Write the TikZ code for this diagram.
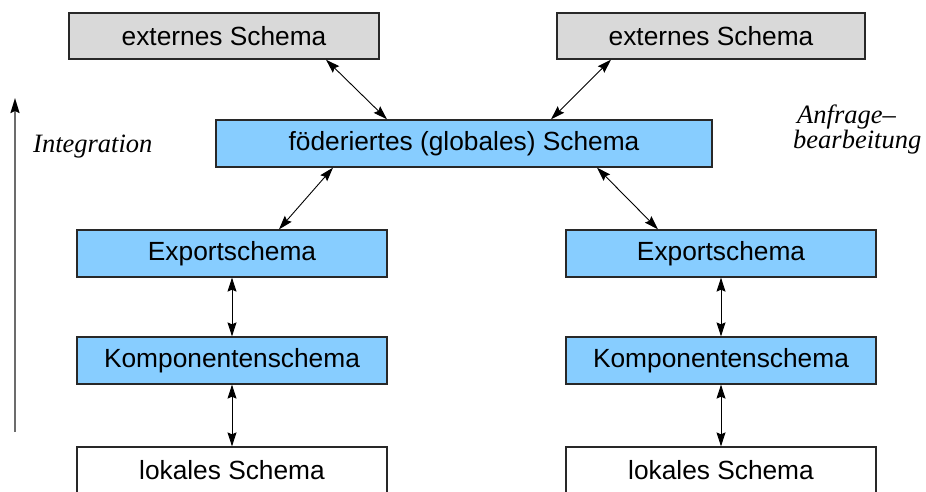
\documentclass[tikz,border=0pt]{standalone}
\usepackage{fontspec}
\setmainfont{Liberation Serif}
\setsansfont{Liberation Sans}
\usetikzlibrary{arrows.meta,calc}
\definecolor{boxgray}{RGB}{217,217,217}
\definecolor{boxblue}{RGB}{135,205,255}
\definecolor{edgegray}{RGB}{40,40,40}
\tikzset{
  boxfont/.style={font=\sffamily\fontsize{26.3}{30}\selectfont},
  schema/.style={draw=edgegray, line width=1.3pt, minimum width=310pt, minimum height=47pt,
    inner sep=0pt, boxfont, text=black},
  extbox/.style={schema, fill=boxgray, minimum height=46pt},
  bluebox/.style={schema, fill=boxblue},
  lokbox/.style={schema, fill=white, minimum height=70pt},
  arr/.style={{Stealth[length=14pt,width=9pt,inset=2pt]}-{Stealth[length=14pt,width=9pt,inset=2pt]}, line width=0.9pt, black},
  sidetext/.style={font=\itshape\fontsize{26.5}{30}\selectfont, inner sep=0pt, anchor=base west},
}
\begin{document}
\begin{tikzpicture}[x=1pt,y=-1pt]
\useasboundingbox (0,0) rectangle (926,491);
\clip (0,0) rectangle (926,491);
% boxes
\node[extbox] (ext1) at (224,36) {externes Schema};
\node[extbox, minimum width=308pt] (ext2) at (711,36) {externes Schema};
\node[bluebox, minimum width=496pt] (fed) at (464,143.5) {föderiertes (globales) Schema};
\node[bluebox] (exp1) at (232,253.5) {Exportschema};
\node[bluebox] (exp2) at (721,253.5) {Exportschema};
\node[bluebox] (komp1) at (232,360.5) {Komponentenschema};
\node[bluebox] (komp2) at (721,360.5) {Komponentenschema};
\node[lokbox] (lok1) at (232,482) {};
\node[lokbox] (lok2) at (721,482) {};
\node[boxfont, inner sep=0pt] (lok1t) at (232,470) {lokales Schema};
\node[boxfont, inner sep=0pt] (lok2t) at (721,470) {lokales Schema};
% connectors
\draw[arr] ([xshift=102pt]ext1.south) -- ([xshift=-77pt]fed.north);
\draw[arr] ([xshift=-100pt]ext2.south) -- ([xshift=87pt]fed.north);
\draw[arr] ([xshift=-131pt]fed.south) -- ([xshift=47pt]exp1.north);
\draw[arr] ([xshift=133pt]fed.south) -- ([xshift=-63pt]exp2.north);
\draw[arr] (exp1.south) -- (komp1.north);
\draw[arr] (exp2.south) -- (komp2.north);
\draw[arr] (komp1.south) -- (lok1.north);
\draw[arr] (komp2.south) -- (lok2.north);
% integration arrow
\coordinate (ibot) at (15,432);
\coordinate (itop) at (15,98);
\draw[-{Stealth[length=15pt,width=9pt,inset=2pt,color=black,fill=black]}, line width=1.6pt, draw=gray!85!black] (ibot) -- (itop);
\node[sidetext] (integ) at (33,152) {Integration};
\node[sidetext] (anf1) at (797,123) {Anfrage--};
\node[sidetext] (anf2) at (793,148) {bearbeitung};
\end{tikzpicture}
\end{document}
